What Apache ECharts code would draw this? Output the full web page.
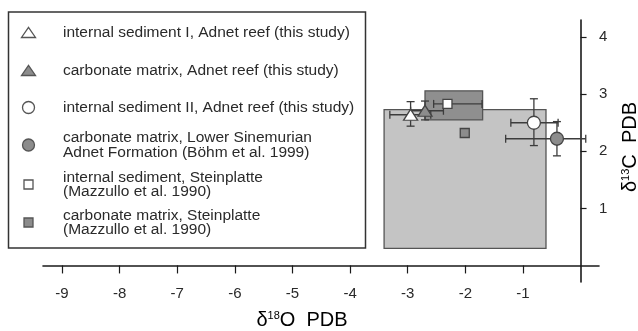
<!DOCTYPE html>
<html>
<head>
<meta charset="utf-8">
<script src="https://cdn.jsdelivr.net/npm/echarts@6/dist/echarts.min.js"></script>
<style>
  html, body { margin: 0; padding: 0; background: #fff; }
</style>
</head>
<body>

<div id="main" style="width: 638px;height:331px;"></div>

<script type="text/javascript">
    // tick labels
    var xTicks = [-9, -8, -7, -6, -5, -4, -3, -2, -1];
    var yTicks = [1, 2, 3, 4];

    // legend / series names
    var seriesNames = [
        'internal sediment I, Adnet reef (this study)',
        'carbonate matrix, Adnet reef (this study)',
        'internal sediment II, Adnet reef (this study)',
        'carbonate matrix, Lower Sinemurian\nAdnet Formation (Böhm et al. 1999)',
        'internal sediment, Steinplatte\n(Mazzullo et al. 1990)',
        'carbonate matrix, Steinplatte\n(Mazzullo et al. 1990)'
    ];

    // mean values (d18O, d13C) and error ranges, one entry per series
    var pointX = [-2.95, -2.70, -0.81, -0.41, -2.31, -2.01];
    var pointY = [2.64, 2.71, 2.50, 2.22, 2.83, 2.32];
    var xErrLow  = [-3.31, -2.95, -1.21, -1.30, -2.55, null];
    var xErrHigh = [-2.60, -2.38, -0.39, 0.09, -1.71, null];
    var yErrLow  = [2.44, 2.55, 2.10, 1.92, null, null];
    var yErrHigh = [2.87, 2.88, 2.92, 2.52, null, null];

    // range boxes [xMin, xMax, yMin, yMax]
    var boxLight = [-3.41, -0.60, 0.30, 2.73];
    var boxDark = [-2.70, -1.70, 2.55, 3.06];

    var symbols = ['triangle', 'triangle', 'circle', 'circle', 'rect', 'rect'];
    var symbolSizes = [[14, 11], [14, 11], 13, 13, 9, 9];
    var fills = ['#ffffff', '#8c8c8c', '#ffffff', '#8c8c8c', '#ffffff', '#8c8c8c'];

    var myChart = echarts.init(document.getElementById('main'));

    function boxSeries(box, fill) {
        return {
            type: 'custom',
            z: 1,
            silent: true,
            data: [box],
            renderItem: function (params, api) {
                var p1 = api.coord([api.value(0), api.value(3)]);
                var p2 = api.coord([api.value(1), api.value(2)]);
                return {
                    type: 'rect',
                    shape: { x: p1[0], y: p1[1], width: p2[0] - p1[0], height: p2[1] - p1[1] },
                    style: { fill: fill, stroke: '#555', lineWidth: 1.3 }
                };
            }
        };
    }

    var series = [boxSeries(boxLight, '#c4c4c4'), boxSeries(boxDark, '#8f8f8f')];

    // error bars
    series.push({
        type: 'custom',
        z: 2,
        silent: true,
        data: pointX.map(function (x, i) { return [x, pointY[i]]; }),
        renderItem: function (params, api) {
            var i = params.dataIndex;
            var cap = 4;
            var kids = [];
            var st = { stroke: '#3c3c3c', lineWidth: 1.3 };
            if (xErrLow[i] !== null) {
                var a = api.coord([xErrLow[i], pointY[i]]);
                var b = api.coord([xErrHigh[i], pointY[i]]);
                kids.push({ type: 'line', shape: { x1: a[0], y1: a[1], x2: b[0], y2: b[1] }, style: st });
                kids.push({ type: 'line', shape: { x1: a[0], y1: a[1] - cap, x2: a[0], y2: a[1] + cap }, style: st });
                kids.push({ type: 'line', shape: { x1: b[0], y1: b[1] - cap, x2: b[0], y2: b[1] + cap }, style: st });
            }
            if (yErrLow[i] !== null) {
                var c = api.coord([pointX[i], yErrLow[i]]);
                var d = api.coord([pointX[i], yErrHigh[i]]);
                kids.push({ type: 'line', shape: { x1: c[0], y1: c[1], x2: d[0], y2: d[1] }, style: st });
                kids.push({ type: 'line', shape: { x1: c[0] - cap, y1: c[1], x2: c[0] + cap, y2: c[1] }, style: st });
                kids.push({ type: 'line', shape: { x1: d[0] - cap, y1: d[1], x2: d[0] + cap, y2: d[1] }, style: st });
            }
            return { type: 'group', children: kids };
        }
    });

    // points
    seriesNames.forEach(function (name, i) {
        series.push({
            name: name,
            type: 'scatter',
            z: 3,
            symbol: symbols[i],
            symbolSize: symbolSizes[i],
            itemStyle: { color: fills[i], borderColor: '#444', borderWidth: 1.3, opacity: 1 },
            data: [[pointX[i], pointY[i]]]
        });
    });

    // legend drawn as graphics
    var legendRowY = [32.5, 70.5, 107.5, 145, 184.5, 222.5];
    var legendItems = [{
        type: 'rect',
        shape: { x: 8.5, y: 12, width: 357, height: 236 },
        style: { fill: '#fff', stroke: '#333', lineWidth: 1.5 },
        z: 0
    }];
    seriesNames.forEach(function (name, i) {
        var cx = 28.5, cy = legendRowY[i];
        var sty = { fill: fills[i], stroke: '#555', lineWidth: 1.3 };
        var icon;
        if (symbols[i] === 'triangle') {
            icon = { type: 'polygon', shape: { points: [[cx - 7, cy + 5], [cx + 7, cy + 5], [cx, cy - 5]] }, style: sty };
        } else if (symbols[i] === 'circle') {
            icon = { type: 'circle', shape: { cx: cx, cy: cy, r: 6 }, style: sty };
        } else {
            icon = { type: 'rect', shape: { x: cx - 4.5, y: cy - 4.5, width: 9, height: 9 }, style: sty };
        }
        legendItems.push(icon);
        legendItems.push({
            type: 'text',
            x: 63,
            y: cy,
            style: {
                text: name,
                fill: '#2a2a2a',
                font: '15.5px "Liberation Sans", Arial, sans-serif',
                lineHeight: 14.5,
                verticalAlign: 'middle',
                align: 'left'
            }
        });
    });

    var titleRich = {
        d: { fontSize: 20, fontFamily: '"Liberation Sans", Arial, sans-serif', color: '#2a2a2a' },
        s: { fontSize: 11, fontFamily: '"Liberation Sans", Arial, sans-serif', color: '#2a2a2a', verticalAlign: 'top' }
    };

    legendItems.push({
        type: 'text',
        x: 302,
        y: 320,
        style: {
            text: '{d|δ}{s|18}{d|O  PDB}',
            rich: titleRich,
            align: 'center',
            verticalAlign: 'middle'
        }
    });
    legendItems.push({
        type: 'text',
        x: 630,
        y: 147,
        rotation: Math.PI / 2,
        style: {
            text: '{d|δ}{s|13}{d|C  PDB}',
            rich: titleRich,
            align: 'center',
            verticalAlign: 'middle'
        }
    });

    var option = {
        animation: false,
        backgroundColor: '#fff',
        grid: { left: 43, right: 39, top: 20, bottom: 49 },
        xAxis: {
            type: 'value',
            min: -9.33,
            max: 0.32,
            axisLine: { onZero: true, lineStyle: { color: '#1a1a1a', width: 1.6 } },
            axisTick: { show: true, length: 8, customValues: xTicks, lineStyle: { color: '#1a1a1a', width: 1.2 } },
            axisLabel: { customValues: xTicks, margin: 4, fontSize: 15, color: '#2a2a2a',
                fontFamily: '"Liberation Sans", Arial, sans-serif' },
            splitLine: { show: false }
        },
        yAxis: {
            type: 'value',
            position: 'right',
            min: -0.29,
            max: 4.30,
            axisLine: { show: true, onZero: true, lineStyle: { color: '#1a1a1a', width: 1.6 } },
            axisTick: { show: true, length: 6, customValues: yTicks, lineStyle: { color: '#1a1a1a', width: 1.2 } },
            axisLabel: { customValues: yTicks, margin: 0, fontSize: 15, color: '#2a2a2a',
                fontFamily: '"Liberation Sans", Arial, sans-serif' },
            splitLine: { show: false }
        },
        graphic: legendItems,
        series: series
    };

    myChart.setOption(option);
</script>

</body>
</html>
